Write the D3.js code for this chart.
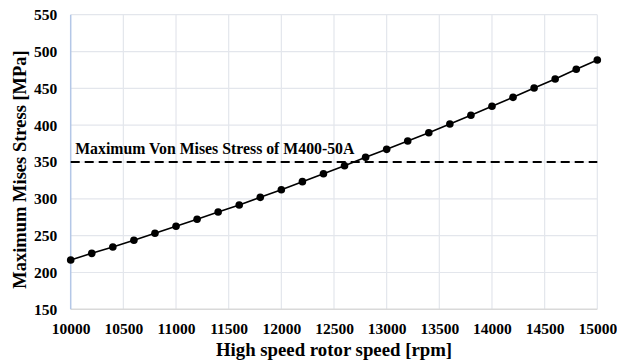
<!DOCTYPE html>
<html><head><meta charset="utf-8">
<script src="https://cdn.jsdelivr.net/npm/d3@7"></script>
<style>body{margin:0;background:#fff}svg{display:block}</style>
</head><body>
<script>
const speeds = [10000,10200,10400,10600,10800,11000,11200,11400,11600,11800,12000,12200,12400,12600,12800,13000,13200,13400,13600,13800,14000,14200,14400,14600,14800,15000];
const stress = [217,226,234.6,243.7,253.2,262.7,272.2,282.1,291.6,302,312.4,323.3,334.1,345,356.4,367.2,378.5,389.8,401.6,413.4,425.6,437.8,450.5,462.7,475.9,488.5];
const xTicks = [10000,10500,11000,11500,12000,12500,13000,13500,14000,14500,15000];
const yTicks = [150,200,250,300,350,400,450,500,550];
const limitValue = [350];
const limitLabel = "Maximum Von Mises Stress of M400-50A";
const xTitle = "High speed rotor speed [rpm]";
const yTitle = "Maximum Mises Stress [MPa]";

const W=617,H=361;
const m={l:70.7,r:617-597.3,t:14.7,b:361-309.3};
const svg=d3.select("body").append("svg").attr("width",W).attr("height",H);
const x=d3.scaleLinear().domain([10000,15000]).range([m.l,W-m.r]);
const y=d3.scaleLinear().domain([150,550]).range([H-m.b,m.t]);
const font="'Liberation Serif','Times New Roman',serif";

// gridlines
svg.append("g").selectAll("line").data(yTicks.slice(1)).join("line")
  .attr("x1",x(10000)).attr("x2",x(15000)).attr("y1",d=>y(d)).attr("y2",d=>y(d))
  .attr("stroke","#e3e6ec").attr("stroke-width",1.2);
svg.append("g").selectAll("line").data(xTicks.slice(1)).join("line")
  .attr("x1",d=>x(d)).attr("x2",d=>x(d)).attr("y1",y(150)).attr("y2",y(550))
  .attr("stroke","#e3e6ec").attr("stroke-width",1.2);
// bottom axis line
svg.append("line").attr("x1",x(10000)).attr("x2",x(15000)).attr("y1",y(150)).attr("y2",y(150))
  .attr("stroke","#d9d9d9").attr("stroke-width",1.5);
// left axis line
svg.append("line").attr("x1",x(10000)).attr("x2",x(10000)).attr("y1",y(150)).attr("y2",y(550))
  .attr("stroke","#b4c7e7").attr("stroke-width",1.5);

// axes tick labels via d3 axes
const xa=svg.append("g").attr("transform",`translate(0,${y(150)})`)
  .call(d3.axisBottom(x).tickValues(xTicks).tickFormat(d3.format("d")).tickSize(0).tickPadding(13.5));
xa.select(".domain").remove();
xa.selectAll("text").attr("font-family",font).attr("font-weight","bold").attr("font-size",15.5).attr("fill","#000");
const ya=svg.append("g").attr("transform",`translate(${x(10000)},0)`)
  .call(d3.axisLeft(y).tickValues(yTicks).tickFormat(d3.format("d")).tickSize(0).tickPadding(13.5));
ya.select(".domain").remove();
ya.selectAll("text").attr("font-family",font).attr("font-weight","bold").attr("font-size",15.5).attr("fill","#000");

// limit dashed line
svg.append("g").selectAll("line").data(limitValue).join("line")
  .attr("x1",x(10000)).attr("x2",x(15000)).attr("y1",d=>y(d)).attr("y2",d=>y(d))
  .attr("stroke","#000").attr("stroke-width",2).attr("stroke-dasharray","9,5");
svg.append("text").attr("x",x(10000)+4.5).attr("y",y(limitValue[0])-8)
  .attr("font-family",font).attr("font-weight","bold").attr("font-size",15.8).text(limitLabel);

// series
const data=speeds.map((s,i)=>({s,v:stress[i]}));
svg.append("path").datum(data).attr("fill","none").attr("stroke","#000").attr("stroke-width",1.6)
  .attr("d",d3.line().x(d=>x(d.s)).y(d=>y(d.v)));
svg.append("g").selectAll("circle").data(data).join("circle")
  .attr("cx",d=>x(d.s)).attr("cy",d=>y(d.v)).attr("r",3.8).attr("fill","#000");

// titles
svg.append("text").attr("x",(x(10000)+x(15000))/2).attr("y",355.5).attr("text-anchor","middle")
  .attr("font-family",font).attr("font-weight","bold").attr("font-size",18.8).text(xTitle);
svg.append("text").attr("transform",`translate(25.5,${169.5}) rotate(-90)`).attr("text-anchor","middle")
  .attr("font-family",font).attr("font-weight","bold").attr("font-size",18.5).text(yTitle);
</script>
</body></html>
